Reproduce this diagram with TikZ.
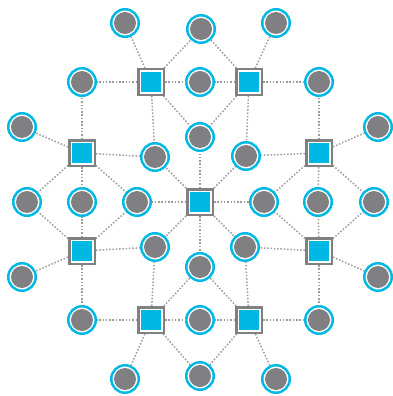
\documentclass[tikz,border=0pt]{standalone}
\usetikzlibrary{calc}
\definecolor{ringblue}{HTML}{00B8E4}
\definecolor{dotgray}{HTML}{808082}
\definecolor{linkgray}{HTML}{9C9C9C}
\tikzset{
  x=1pt,y=-1pt,
  hub/.style={rectangle,minimum size=25.5pt,inner sep=0pt,draw=dotgray,line width=2.5pt,fill=white,
    path picture={\fill[ringblue] ($(path picture bounding box.center)+(-10pt,-10pt)$) rectangle ++(20pt,20pt);}},
  peer/.style={circle,minimum size=27.5pt,inner sep=0pt,draw=ringblue,line width=2.5pt,fill=white,
    path picture={\fill[dotgray] (path picture bounding box.center) circle (11pt);}},
  link/.style={draw=linkgray,line width=1.5pt,dash pattern=on 1.5pt off 1.8pt}
}
\begin{document}
\begin{tikzpicture}
\useasboundingbox (0,0) rectangle (392,396);
% hubs
\node[hub] (S0) at (200,202) {};
\node[hub] (S1) at (151,82) {};
\node[hub] (S2) at (249,82) {};
\node[hub] (S3) at (82,153) {};
\node[hub] (S4) at (319,153) {};
\node[hub] (S5) at (82,251) {};
\node[hub] (S6) at (151,320) {};
\node[hub] (S7) at (249,320) {};
\node[hub] (S8) at (319,251) {};
% peers
\node[peer] (t1) at (125,23) {};
\node[peer] (t2) at (201,29) {};
\node[peer] (t3) at (276,23) {};
\node[peer] (a1) at (82,82) {};
\node[peer] (a2) at (200,82) {};
\node[peer] (a3) at (319,82) {};
\node[peer] (m1) at (200,137) {};
\node[peer] (u1) at (155,157) {};
\node[peer] (u2) at (246,156) {};
\node[peer] (l1) at (22,127) {};
\node[peer] (r1) at (378,127) {};
\node[peer] (h1) at (27,202) {};
\node[peer] (h2) at (82,202) {};
\node[peer] (h3) at (137,202) {};
\node[peer] (h4) at (264,202) {};
\node[peer] (h5) at (318,202) {};
\node[peer] (h6) at (374,202) {};
\node[peer] (d1) at (155,247) {};
\node[peer] (d2) at (245,247) {};
\node[peer] (m2) at (200,267) {};
\node[peer] (l2) at (22,277) {};
\node[peer] (r2) at (378,277) {};
\node[peer] (b1) at (82,320) {};
\node[peer] (b2) at (200,320) {};
\node[peer] (b3) at (319,320) {};
\node[peer] (e1) at (125,379) {};
\node[peer] (e2) at (200,376) {};
\node[peer] (e3) at (276,379) {};
% links
\foreach \a/\b in {S0/h3,S0/h4,S0/m1,S0/m2,S0/u1,S0/u2,S0/d1,S0/d2,
  S1/t1,S1/t2,S1/a1,S1/a2,S1/u1,S1/m1,
  S2/t2,S2/t3,S2/a2,S2/a3,S2/u2,S2/m1,
  S3/a1,S3/l1,S3/u1,S3/h1,S3/h2,S3/h3,
  S4/a3,S4/r1,S4/u2,S4/h4,S4/h5,S4/h6,
  S5/h1,S5/h2,S5/h3,S5/l2,S5/d1,S5/b1,
  S8/h4,S8/h5,S8/h6,S8/r2,S8/d2,S8/b3,
  S6/b1,S6/b2,S6/d1,S6/m2,S6/e1,S6/e2,
  S7/b2,S7/b3,S7/d2,S7/m2,S7/e2,S7/e3}
  \draw[link] (\a) -- (\b);
\end{tikzpicture}
\end{document}
